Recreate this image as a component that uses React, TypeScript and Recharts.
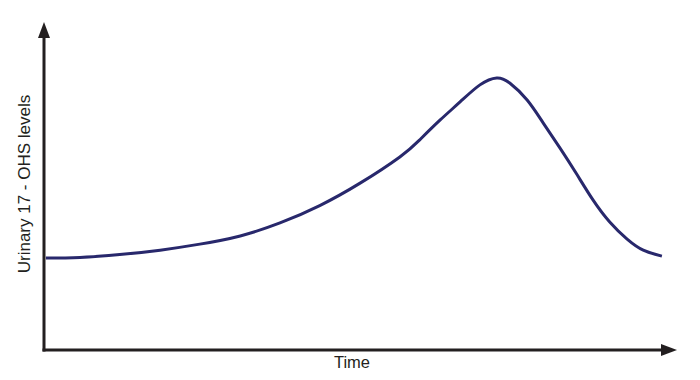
import { LineChart, Line, XAxis, YAxis, Label } from "recharts";

// time (0-100) and urinary 17-OHS level (0-100)
const times = [0.3, 5.8, 12.2, 18.7, 25.1, 31.6, 38.0, 44.4, 50.9, 57.3, 60.5, 63.8, 67.0, 70.2, 72.9, 75.0, 77.8, 80.4, 83.1, 85.8, 88.4, 91.1, 93.9, 96.5, 99.5];
const levels = [29.1, 29.3, 30.2, 31.6, 33.5, 36.1, 40.2, 45.7, 52.8, 61.1, 66.5, 72.8, 78.5, 83.9, 86.1, 84.5, 79.1, 71.8, 63.9, 55.6, 47.5, 40.5, 35.1, 31.6, 29.7];

const xLabel = "Time";
const yLabel = "Urinary 17 - OHS levels";

const data = times.map((t, i) => ({ t, level: levels[i] }));

const axisColor = "#231f20";
const font = '"Liberation Sans", Arial, sans-serif';

export default function App() {
  const axisLine = {
    stroke: axisColor,
    strokeWidth: 3,
    strokeLinecap: "square" as const,
  };

  return (
    <div style={{ position: "absolute", left: 0, top: 0, width: 700, height: 380, background: "#fff" }}>
      <LineChart width={700} height={380} data={data} margin={{ top: 34, right: 35, bottom: 0, left: 0 }}>
        <defs>
          <marker
            id="arrow"
            viewBox="0 0 16 12"
            markerUnits="userSpaceOnUse"
            markerWidth={16}
            markerHeight={12}
            refX={4}
            refY={6}
            orient="auto-start-reverse"
          >
            <path d="M0,0 L16,6 L0,12 z" fill={axisColor} />
          </marker>
        </defs>
        <XAxis
          type="number"
          dataKey="t"
          domain={[0, 100]}
          height={30}
          tick={false}
          tickLine={false}
          axisLine={{ ...axisLine, markerEnd: "url(#arrow)" }}
        >
          <Label
            content={() => (
              <text x={352} y={368} textAnchor="middle" fontFamily={font} fontSize={16.5} fill={axisColor}>
                {xLabel}
              </text>
            )}
          />
        </XAxis>
        <YAxis
          type="number"
          domain={[0, 100]}
          width={44}
          tick={false}
          tickLine={false}
          axisLine={{ ...axisLine, markerStart: "url(#arrow)" }}
        >
          <Label
            content={() => (
              <text
                x={24}
                y={184}
                textAnchor="middle"
                dominantBaseline="central"
                transform="rotate(-90, 24, 184)"
                fontFamily={font}
                fontSize={17}
                fill={axisColor}
              >
                {yLabel}
              </text>
            )}
          />
        </YAxis>
        <Line
          type="natural"
          dataKey="level"
          stroke="#28286c"
          strokeWidth={3}
          dot={false}
          activeDot={false}
          isAnimationActive={false}
        />
      </LineChart>
    </div>
  );
}
